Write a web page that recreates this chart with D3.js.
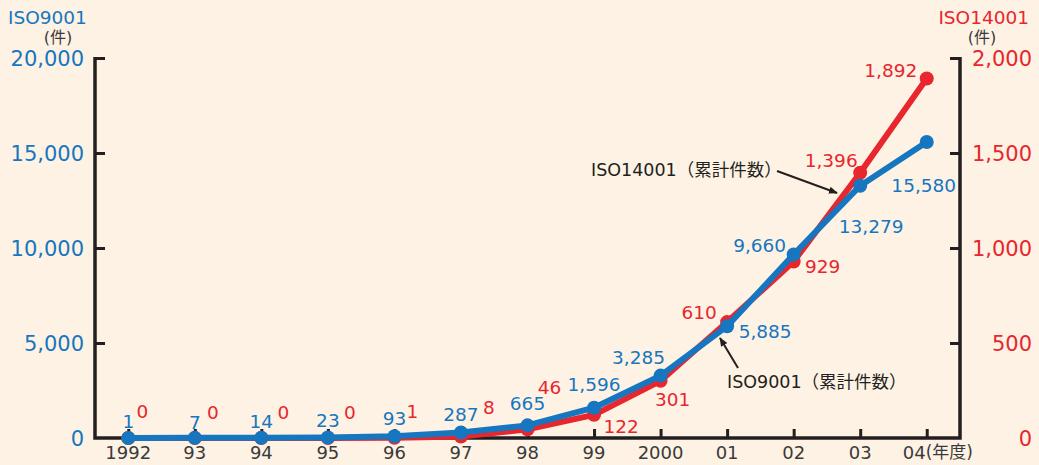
<!DOCTYPE html>
<html>
<head>
<meta charset="utf-8">
<script src="https://cdn.jsdelivr.net/npm/d3@7"></script>
<style>
  body { margin: 0; background: #fef2e4; }
  svg { display: block; }
  text { font-family: "DejaVu Sans", "Noto Sans CJK JP", sans-serif; }
</style>
</head>
<body>
<div id="chart"></div>
<script>
// data
var years = ["1992", "93", "94", "95", "96", "97", "98", "99", "2000", "01", "02", "03", "04"];
var iso9001 = [1, 7, 14, 23, 93, 287, 665, 1596, 3285, 5885, 9660, 13279, 15580];
var iso14001 = [0, 0, 0, 0, 1, 8, 46, 122, 301, 610, 929, 1396, 1892];
var leftTicks = [0, 5000, 10000, 15000, 20000];
var rightTicks = [0, 500, 1000, 1500, 2000];

// label offsets from their point (dx, dy)
var blueOffset = [[0, -17], [0, -16], [0, -16], [0, -17], [0, -18], [0, -18], [0, -22],
  [0, -23], [-22, -18], [38, 5], [-34, -9], [11, 41], [-3, 43]];
var redOffset = [[14, -27], [18, -26], [22, -26], [22, -26], [18, -26], [28, -29], [22, -42],
  [27, 12], [12, 19], [-28, -10], [29, 5], [-29, -12], [-36, -8]];

var blue = "#1676c0", red = "#e8262d", ink = "#231f20", gray = "#3a3a3a";

var W = 1039, H = 465;
var svg = d3.select("#chart").append("svg").attr("width", W).attr("height", H);
svg.append("rect").attr("width", W).attr("height", H).attr("fill", "#fef2e4");

var x = d3.scalePoint().domain(years).range([95, 960]).padding(0.5);
var yL = d3.scaleLinear().domain([0, 20000]).range([438, 58]);
var yR = d3.scaleLinear().domain([0, 2000]).range([438, 58]);

var fmt = d3.format(",");

// axes
var gL = svg.append("g").attr("transform", "translate(95,0)")
  .call(d3.axisRight(yL).tickValues(leftTicks).tickSize(10).tickFormat("").tickSizeOuter(0));
var gR = svg.append("g").attr("transform", "translate(960,0)")
  .call(d3.axisLeft(yR).tickValues(rightTicks).tickSize(10).tickFormat("").tickSizeOuter(0));
var gB = svg.append("g").attr("transform", "translate(0,438)")
  .call(d3.axisTop(x).tickSize(9).tickFormat("").tickSizeOuter(0));
[gL, gR, gB].forEach(function (g) {
  g.select(".domain").remove();
  g.selectAll("line").attr("stroke", ink).attr("stroke-width", 3);
});
gL.select(".tick:first-child line").remove();
gR.select(".tick:first-child line").remove();

svg.append("path")
  .attr("d", "M95,57V438H960V57")
  .attr("fill", "none").attr("stroke", ink).attr("stroke-width", 3.5);

// tick labels
svg.selectAll(".lt").data(leftTicks).enter().append("text")
  .attr("x", 84).attr("y", function (d) { return yL(d); })
  .attr("dy", "0.36em").attr("text-anchor", "end")
  .attr("fill", blue).style("font-size", "21px")
  .text(function (d) { return fmt(d); });
svg.selectAll(".rt").data(rightTicks).enter().append("text")
  .attr("x", 1032).attr("y", function (d) { return yR(d); })
  .attr("dy", "0.36em").attr("text-anchor", "end")
  .attr("fill", red).style("font-size", "21px")
  .text(function (d) { return fmt(d); });
svg.selectAll(".xt").data(years).enter().append("text")
  .attr("x", function (d, i) { return i === years.length - 1 ? x(d) - 1 : x(d); })
  .attr("y", 459)
  .attr("text-anchor", function (d, i) { return i === years.length - 1 ? "end" : "middle"; })
  .attr("fill", gray).style("font-size", "18px")
  .text(function (d) { return d; });
svg.append("text").attr("x", x("04") - 1).attr("y", 458)
  .attr("fill", gray).style("font-size", "17px").text("(年度)");

// axis titles
svg.append("text").attr("x", 8).attr("y", 24).attr("fill", blue)
  .style("font-size", "18.5px").text("ISO9001");
svg.append("text").attr("x", 58).attr("y", 43).attr("text-anchor", "middle").attr("fill", gray)
  .style("font-size", "16px").text("(件)");
svg.append("text").attr("x", 1029).attr("y", 24).attr("text-anchor", "end").attr("fill", red)
  .style("font-size", "18.5px").text("ISO14001");
svg.append("text").attr("x", 982).attr("y", 43).attr("text-anchor", "middle").attr("fill", gray)
  .style("font-size", "16px").text("(件)");

// lines
function drawSeries(values, scale, color) {
  var line = d3.line()
    .x(function (d, i) { return x(years[i]); })
    .y(function (d) { return scale(d); });
  svg.append("path").datum(values).attr("d", line)
    .attr("fill", "none").attr("stroke", color).attr("stroke-width", 6)
    .attr("stroke-linejoin", "round");
  svg.selectAll(null).data(values).enter().append("circle")
    .attr("cx", function (d, i) { return x(years[i]); })
    .attr("cy", function (d) { return scale(d); })
    .attr("r", 7).attr("fill", color);
}
drawSeries(iso14001, yR, red);
drawSeries(iso9001, yL, blue);

// value labels
function drawLabels(values, scale, color, offs) {
  svg.selectAll(null).data(values).enter().append("text")
    .attr("x", function (d, i) { return x(years[i]) + offs[i][0]; })
    .attr("y", function (d, i) { return scale(d) + offs[i][1]; })
    .attr("dy", "0.36em").attr("text-anchor", "middle")
    .attr("fill", color).style("font-size", "18.5px")
    .text(function (d) { return fmt(d); });
}
drawLabels(iso9001, yL, blue, blueOffset);
drawLabels(iso14001, yR, red, redOffset);

// annotations
var defs = svg.append("defs");
defs.append("marker").attr("id", "arr").attr("viewBox", "0 0 10 10")
  .attr("refX", 9).attr("refY", 5).attr("markerWidth", 9).attr("markerHeight", 9)
  .attr("markerUnits", "userSpaceOnUse").attr("orient", "auto")
  .append("path").attr("d", "M0,1L10,5L0,9Z").attr("fill", ink);

svg.append("text").attr("x", 591).attr("y", 176).attr("fill", ink)
  .style("font-size", "17.5px").text("ISO14001（累計件数）");
svg.append("line").attr("x1", 777).attr("y1", 171).attr("x2", 837).attr("y2", 193)
  .attr("stroke", ink).attr("stroke-width", 2).attr("marker-end", "url(#arr)");

svg.append("text").attr("x", 727).attr("y", 388).attr("fill", ink)
  .style("font-size", "17.5px").text("ISO9001（累計件数）");
svg.append("line").attr("x1", 738).attr("y1", 368).attr("x2", 720).attr("y2", 338)
  .attr("stroke", ink).attr("stroke-width", 2).attr("marker-end", "url(#arr)");
</script>
</body>
</html>
